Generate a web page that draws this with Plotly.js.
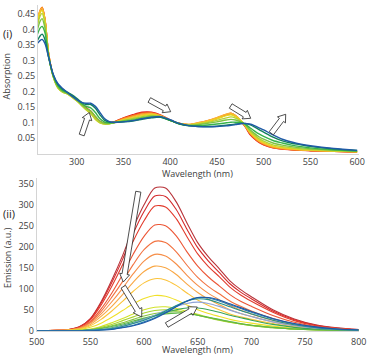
<!DOCTYPE html>
<html><head><meta charset="utf-8">
<script src="https://cdn.plot.ly/plotly-3.0.1.min.js"></script>
<style>html,body{margin:0;padding:0;background:#fff}#c{width:368px;height:356px}</style>
</head><body><div id="c"></div>
<script>
// ---------- DATA: (i) Absorption ----------
const absWl = [258,261,263,266,270,275,280,285,290,295,300,305,310,315,320,325,330,335,340,350,360,370,380,390,400,410,420,430,440,450,460,465,470,475,480,485,490,495,500,510,520,530,540,550,575,600];
const abs1 = [0.420,0.458,0.470,0.432,0.320,0.250,0.215,0.202,0.196,0.186,0.174,0.160,0.148,0.137,0.118,0.104,0.098,0.099,0.102,0.115,0.125,0.133,0.133,0.124,0.108,0.097,0.093,0.097,0.104,0.113,0.124,0.128,0.120,0.105,0.088,0.063,0.048,0.036,0.028,0.018,0.014,0.012,0.010,0.009,0.007,0.005];
const abs2 = [0.425,0.462,0.472,0.434,0.322,0.250,0.214,0.201,0.195,0.185,0.173,0.159,0.146,0.135,0.116,0.103,0.098,0.099,0.102,0.114,0.123,0.131,0.132,0.123,0.108,0.097,0.093,0.098,0.105,0.114,0.125,0.129,0.121,0.106,0.089,0.065,0.049,0.037,0.029,0.019,0.015,0.012,0.011,0.009,0.007,0.005];
const abs3 = [0.430,0.463,0.471,0.433,0.320,0.249,0.213,0.200,0.194,0.184,0.172,0.158,0.144,0.133,0.114,0.102,0.097,0.098,0.101,0.112,0.121,0.128,0.130,0.122,0.108,0.097,0.094,0.099,0.106,0.115,0.126,0.130,0.122,0.107,0.090,0.067,0.051,0.039,0.031,0.020,0.016,0.013,0.011,0.010,0.007,0.005];
const abs4 = [0.435,0.462,0.468,0.432,0.320,0.248,0.212,0.199,0.193,0.183,0.171,0.157,0.142,0.131,0.112,0.100,0.096,0.097,0.100,0.110,0.118,0.125,0.128,0.121,0.107,0.097,0.094,0.099,0.106,0.116,0.127,0.130,0.122,0.108,0.091,0.069,0.053,0.041,0.033,0.022,0.017,0.014,0.012,0.010,0.008,0.006];
const abs5 = [0.430,0.455,0.462,0.428,0.318,0.247,0.211,0.198,0.192,0.182,0.170,0.156,0.141,0.129,0.110,0.099,0.095,0.096,0.100,0.108,0.115,0.122,0.126,0.120,0.107,0.096,0.093,0.097,0.103,0.112,0.122,0.125,0.119,0.108,0.092,0.071,0.056,0.044,0.036,0.024,0.019,0.016,0.013,0.011,0.008,0.006];
const abs6 = [0.415,0.445,0.452,0.420,0.315,0.247,0.212,0.198,0.192,0.182,0.170,0.156,0.142,0.130,0.111,0.099,0.095,0.096,0.100,0.107,0.113,0.119,0.123,0.119,0.107,0.096,0.092,0.095,0.100,0.107,0.115,0.118,0.114,0.106,0.093,0.074,0.060,0.048,0.040,0.028,0.022,0.018,0.015,0.013,0.009,0.006];
const abs7 = [0.400,0.428,0.435,0.405,0.313,0.248,0.214,0.200,0.194,0.184,0.172,0.158,0.146,0.137,0.120,0.104,0.097,0.097,0.100,0.105,0.110,0.116,0.120,0.118,0.107,0.096,0.091,0.093,0.097,0.102,0.108,0.110,0.108,0.103,0.094,0.078,0.065,0.054,0.046,0.034,0.027,0.022,0.018,0.015,0.011,0.007];
const abs8 = [0.385,0.405,0.410,0.390,0.312,0.250,0.218,0.203,0.196,0.186,0.175,0.162,0.152,0.147,0.132,0.112,0.101,0.099,0.100,0.103,0.107,0.113,0.117,0.117,0.107,0.096,0.090,0.090,0.092,0.095,0.099,0.101,0.101,0.100,0.095,0.084,0.073,0.063,0.055,0.042,0.034,0.027,0.022,0.018,0.012,0.008];
const abs9 = [0.365,0.380,0.385,0.368,0.310,0.253,0.222,0.207,0.198,0.189,0.178,0.166,0.158,0.158,0.146,0.124,0.107,0.101,0.100,0.102,0.105,0.110,0.115,0.117,0.107,0.095,0.089,0.087,0.087,0.088,0.091,0.093,0.095,0.097,0.097,0.093,0.086,0.077,0.069,0.053,0.041,0.033,0.028,0.023,0.015,0.010];
const abs10 = [0.355,0.365,0.368,0.355,0.310,0.255,0.225,0.210,0.197,0.185,0.174,0.165,0.162,0.162,0.152,0.132,0.112,0.103,0.101,0.102,0.106,0.112,0.117,0.119,0.109,0.097,0.090,0.087,0.086,0.087,0.089,0.091,0.093,0.096,0.097,0.095,0.090,0.083,0.076,0.060,0.046,0.037,0.030,0.025,0.016,0.010];
const absSeries = [abs1,abs2,abs3,abs4,abs5,abs6,abs7,abs8,abs9,abs10];
const absColors = ['#e31a1c','#f15a24','#f7931e','#fbb03b','#e8d71e','#b5d334','#7dc242','#37b34a','#12805c','#1f5aa6'];

// ---------- DATA: (ii) Emission ----------
const emWl = [500,520,530,540,550,560,570,580,590,600,610,620,630,640,650,660,670,680,690,700,720,740,760,780,800];
const em1 = [0,1,3,10,29,69,121,179,245,300,340,340,307,257,210,176,148,119,98,81,50,28,14,7,3];
const em2 = [0,1,3,9,28,66,115,170,232,284,321,320,289,242,198,166,139,112,92,76,47,26,13,6,3];
const em3 = [0,1,3,9,26,61,106,157,214,262,297,295,267,224,183,153,129,104,85,70,44,24,12,6,2];
const em4 = [0,1,2,7,22,52,90,134,183,225,252,250,226,188,154,128,107,86,70,58,36,20,10,5,2];
const em5 = [0,1,2,7,20,46,80,117,158,193,213,210,188,156,127,105,88,71,58,47,29,16,8,4,2];
const em6 = [0,1,2,6,18,40,69,101,136,166,182,178,159,132,108,89,74,60,49,40,25,14,7,3,1];
const em7 = [0,1,2,5,15,34,58,86,116,141,154,150,134,111,91,75,62,50,41,34,21,12,6,3,1];
const em8 = [0,0,1,4,12,27,47,70,94,114,124,121,108,90,73,60,50,40,33,27,17,9,5,2,1];
const em9 = [0,0,1,3,8,18,32,48,64,77,84,82,73,61,50,41,34,27,22,18,11,6,3,2,1];
const em10 = [0,0,0,1,4,10,19,29,40,50,56,57,53,46,39,32,26,20,16,13,8,4,2,1,0];
const em11 = [0,0,0,1,3,8,15,24,33,42,48,50,48,43,37,31,25,20,16,12,7,4,2,1,0];
const em12 = [0,0,0,1,2,6,12,19,27,35,41,44,45,42,37,31,26,21,16,13,7,4,2,1,0];
const em13 = [0,0,0,0,2,5,10,16,23,30,36,40,42,41,37,32,27,22,17,13,8,4,2,1,0];
const em14 = [0,0,0,0,1,3,7,13,20,28,36,44,50,54,54,50,44,37,31,25,15,8,4,2,1];
const em15 = [0,0,0,0,1,3,6,11,18,27,37,48,58,65,68,65,58,49,41,34,21,12,6,3,1];
const em16 = [0,0,0,0,1,2,5,10,17,25,35,47,60,71,76,74,66,57,48,40,25,14,7,3,1];
const em17 = [0,0,0,0,1,2,4,8,13,21,31,44,58,71,79,78,71,62,53,44,28,16,8,4,1];
const em18 = [0,0,0,0,0,1,3,7,12,19,29,42,57,70,79,79,73,64,55,46,29,17,9,4,2];
const emSeries = [em1,em2,em3,em4,em5,em6,em7,em8,em9,em10,em11,em12,em13,em14,em15,em16,em17,em18];
const emColors = ['#b8343a','#d42a2c','#e23b2c','#ec5636','#f27240','#f68e48','#f9a744','#fbc33a','#f0e02a','#d2e22a','#a8d32e','#86c440','#5fb847','#3aa457','#8fa4d6','#239184','#2d7fb4','#1d58a6'];

// tick labels
const absTicks = [0.05,0.1,0.15,0.2,0.25,0.3,0.35,0.4,0.45];
const absXTicks = [300,350,400,450,500,550,600];
const emTicks = [0,50,100,150,200,250,300,350];
const emXTicks = [500,550,600,650,700,750,800];

// ---------- LAYOUT ----------
const W = 368, H = 356;
const px = x => x / W, py = y => 1 - y / H;
const traces = [];
absSeries.forEach((s, i) => traces.push({x: absWl, y: s, type: 'scatter', mode: 'lines',
  line: {color: absColors[i], width: 1.4, shape: 'spline', smoothing: 0.8}, xaxis: 'x', yaxis: 'y', hoverinfo: 'skip'}));
emSeries.forEach((s, i) => traces.push({x: emWl, y: s, type: 'scatter', mode: 'lines',
  line: {color: emColors[i], width: 1.1, shape: 'spline', smoothing: 0.8}, xaxis: 'x2', yaxis: 'y2', hoverinfo: 'skip'}));

function arrow(x0, y0, x1, y1, s, h, hl) {
  const L = Math.hypot(x1 - x0, y1 - y0), dx = (x1 - x0) / L, dy = (y1 - y0) / L;
  const nx = -dy, ny = dx;
  const bx = x1 - dx * hl, by = y1 - dy * hl;
  const pts = [[x0 + nx * s, y0 + ny * s], [bx + nx * s, by + ny * s], [bx + nx * h, by + ny * h], [x1, y1],
    [bx - nx * h, by - ny * h], [bx - nx * s, by - ny * s], [x0 - nx * s, y0 - ny * s]];
  const d = 'M' + pts.map(p => px(p[0]).toFixed(5) + ',' + py(p[1]).toFixed(5)).join(' L') + ' Z';
  return {type: 'path', xref: 'paper', yref: 'paper', path: d, fillcolor: '#ffffff', line: {color: '#222', width: 0.8}, layer: 'above'};
}
const shapes = [
  arrow(81.7, 135, 89.3, 112.5, 2.6, 5, 7),
  arrow(149.3, 100, 170.7, 111.7, 2.6, 5, 7),
  arrow(230.7, 106, 250.7, 118.3, 2.6, 5, 7),
  arrow(271.3, 133.3, 285.7, 114.3, 2.6, 5, 7),
  arrow(138.3, 191.7, 123.3, 282, 2.6, 5, 8),
  arrow(123.3, 286.7, 141.7, 317, 2.6, 5, 8),
  arrow(166.7, 325, 197.3, 307, 2.6, 5, 8)
];

const fnt = {family: 'Open Sans, Arial, sans-serif', size: 9, color: '#404040'};
const axisCommon = {showgrid: false, zeroline: false, showline: true, linecolor: '#d4d4d4', linewidth: 1,
  ticks: '', tickfont: fnt, fixedrange: true};
const ann = (text, x, y, extra) => Object.assign({text: text, x: px(x), y: py(y), xref: 'paper', yref: 'paper',
  xanchor: 'center', yanchor: 'middle', showarrow: false, font: fnt}, extra || {});
const layout = {
  width: W, height: H, margin: {l: 0, r: 0, t: 0, b: 0}, paper_bgcolor: '#fff', plot_bgcolor: '#fff',
  showlegend: false,
  xaxis: Object.assign({}, axisCommon, {domain: [px(38), px(359)], range: [258.6, 602], tickvals: absXTicks, anchor: 'y'}),
  yaxis: Object.assign({}, axisCommon, {domain: [py(153.5), py(5)], range: [0, 0.479], tickvals: absTicks, anchor: 'x'}),
  xaxis2: Object.assign({}, axisCommon, {domain: [px(36.7), px(358.7)], range: [500, 800], tickvals: emXTicks, anchor: 'y2', ticklabelstandoff: 2}),
  yaxis2: Object.assign({}, axisCommon, {domain: [py(330.7), py(178)], range: [0, 364], tickvals: emTicks, anchor: 'x2'}),
  shapes: shapes,
  annotations: [
    ann('Absorption', 6.5, 76, {textangle: -90}),
    ann('(i)', 7, 33, {font: Object.assign({}, fnt, {size: 11, color: '#222'})}),
    ann('Wavelength (nm)', 197, 173),
    ann('Emission (a.u.)', 7, 258, {textangle: -90}),
    ann('(ii)', 8.5, 213, {font: Object.assign({}, fnt, {size: 11, color: '#222'})}),
    ann('Wavelength (nm)', 197, 349.5)
  ]
};
Plotly.newPlot('c', traces, layout, {staticPlot: true, displayModeBar: false});
</script></body></html>
